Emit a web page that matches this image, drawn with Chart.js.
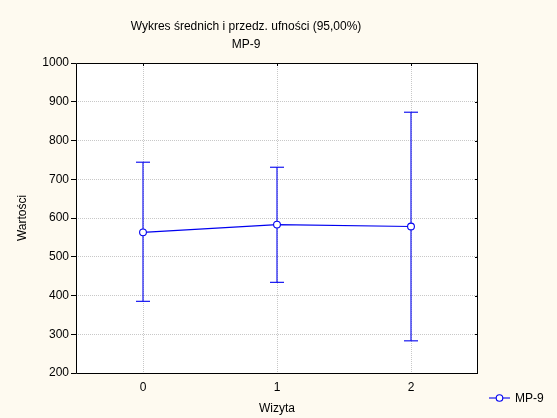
<!DOCTYPE html>
<html>
<head>
<meta charset="utf-8">
<script src="https://cdn.jsdelivr.net/npm/chart.js@4/dist/chart.umd.min.js"></script>
<style>
  html, body { margin: 0; padding: 0; background: #fefaf0; }
  #wrap { position: relative; width: 557px; height: 418px; }
  #legend { position: absolute; left: 489px; top: 391px; font: 12px "Liberation Sans", Arial, sans-serif; color: #000; display: flex; align-items: center; }
  #legend svg { margin-right: 5px; }
</style>
</head>
<body>
<div id="wrap">
  <canvas id="c" width="557" height="418"></canvas>
  <div id="legend"><svg width="21" height="10"><line x1="0" y1="5" x2="21" y2="5" stroke="#0000f0" stroke-width="1.1"/><circle cx="10.5" cy="5" r="3.3" fill="#fff" stroke="#0000f0" stroke-width="1.1"/></svg><span>MP-9</span></div>
</div>
<script>
const titleLines = ['Wykres średnich i przedz. ufności (95,00%)', 'MP-9'];
const seriesName = 'MP-9';
const categories = [0, 1, 2];
const means = [563, 583, 578];
const upper = [744, 731, 873];
const lower = [385, 434, 283];
const yTicks = [200, 300, 400, 500, 600, 700, 800, 900, 1000];
const xTitle = 'Wizyta';
const yTitle = 'Wartości';

const BLUE = '#0000f0';
const FONT = '"Liberation Sans", Arial, sans-serif';

const errorSets = categories.map((c, i) => ({
  label: 'err' + i,
  data: [{x: c, y: lower[i]}, {x: c, y: upper[i]}],
  showLine: true,
  borderColor: BLUE,
  borderWidth: 1.1,
  pointStyle: 'line',
  pointRadius: 7,
  pointBorderWidth: 1.1,
  pointBorderColor: BLUE,
  order: 2
}));

const mainSet = {
  label: seriesName,
  data: categories.map((c, i) => ({x: c, y: means[i]})),
  showLine: true,
  borderColor: BLUE,
  borderWidth: 1.1,
  pointStyle: 'circle',
  pointRadius: 3.4,
  pointBackgroundColor: '#ffffff',
  pointBorderColor: BLUE,
  pointBorderWidth: 1.1,
  order: 1
};

const bgPlugin = {
  id: 'bg',
  beforeDraw(chart) {
    const {ctx, chartArea: a} = chart;
    ctx.save();
    ctx.fillStyle = '#fefaf0';
    ctx.fillRect(0, 0, chart.width, chart.height);
    ctx.fillStyle = '#ffffff';
    ctx.fillRect(a.left, a.top, a.right - a.left, a.bottom - a.top);
    ctx.restore();
  },
  beforeDatasetsDraw(chart) {
    const {ctx, chartArea: a, scales} = chart;
    ctx.save();
    ctx.strokeStyle = '#000';
    ctx.lineWidth = 1;
    ctx.beginPath();
    ctx.rect(Math.round(a.left) + 0.5, Math.round(a.top) + 0.5, Math.round(a.right - a.left) - 1, Math.round(a.bottom - a.top));
    ctx.stroke();
    ctx.beginPath();
    categories.forEach(c => {
      const x = Math.round(scales.x.getPixelForValue(c)) + 0.5;
      ctx.moveTo(x, a.top); ctx.lineTo(x, a.top + 3);
    });
    yTicks.forEach(v => {
      const y = Math.round(scales.y.getPixelForValue(v)) + 0.5;
      ctx.moveTo(a.right, y); ctx.lineTo(a.right - 3, y);
    });
    ctx.stroke();
    ctx.restore();
  }
};

new Chart(document.getElementById('c'), {
  type: 'scatter',
  data: { datasets: [...errorSets, mainSet] },
  options: {
    responsive: false,
    animation: false,
    layout: { padding: { left: 14, right: 79, top: 0, bottom: 0 } },
    plugins: {
      legend: { display: false },
      tooltip: { enabled: false },
      title: {
        display: true,
        text: titleLines,
        color: '#000',
        font: { family: FONT, size: 12, weight: 'normal', lineHeight: 1.5 },
        padding: { top: 18, bottom: 9 }
      }
    },
    scales: {
      x: {
        type: 'linear',
        min: -0.5,
        max: 2.5,
        afterBuildTicks(scale) { scale.ticks = categories.map(v => ({value: v})); },
        afterFit(scale) { scale.height = 45; },
        ticks: { color: '#000', font: { family: FONT, size: 12 }, padding: 7, callback: v => String(v) },
        grid: { color: '#c8c8c8', drawTicks: false, lineWidth: 1 },
        border: { display: false, dash: [1, 1] },
        title: { display: true, text: xTitle, color: '#000', font: { family: FONT, size: 12 }, padding: { top: 0, bottom: 2 } }
      },
      y: {
        min: 200,
        max: 1000,
        afterBuildTicks(scale) { scale.ticks = yTicks.map(v => ({value: v})); },
        afterFit(scale) { scale.width = 62; },
        ticks: { color: '#000', font: { family: FONT, size: 12 }, padding: 2, callback: v => String(v) },
        grid: { color: '#c8c8c8', tickColor: '#000', tickLength: 5, lineWidth: 1 },
        border: { display: false, dash: [1, 1] },
        title: { display: true, text: yTitle, color: '#000', font: { family: FONT, size: 12 }, padding: { top: 1, bottom: 0 } }
      }
    }
  },
  plugins: [bgPlugin]
});
</script>
</body>
</html>
